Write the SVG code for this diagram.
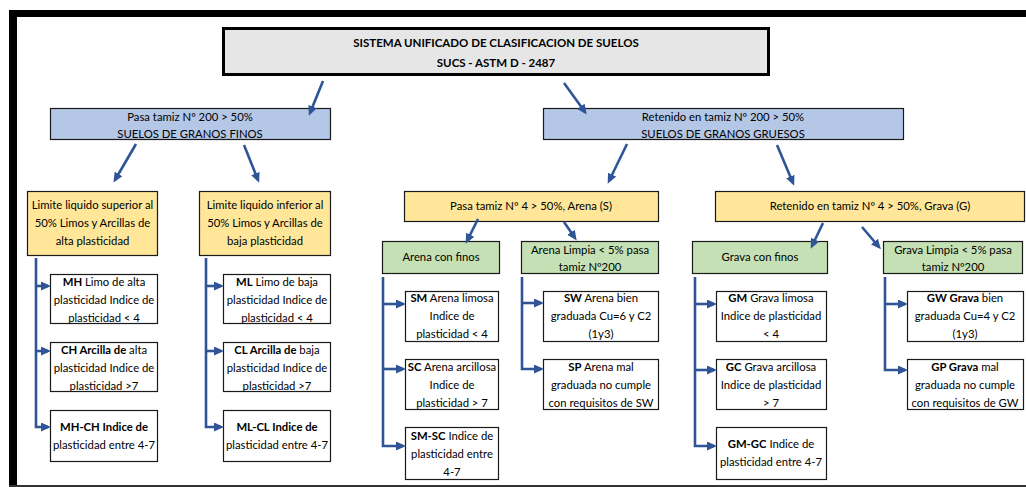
<svg xmlns="http://www.w3.org/2000/svg" width="1026" height="487" viewBox="0 0 1026 487">
<style>
text{font-family:Lato,"Open Sans","Liberation Sans",sans-serif;font-size:11.3px;fill:#000;text-anchor:middle}
.b{font-weight:bold}
.t{font-size:11.5px;font-weight:bold}
.box{stroke:#1a1a1a;stroke-width:1.2}
.w{fill:#fff}
.y{fill:#ffe699}
.g{fill:#c5e0b4}
.bl{fill:#b4c7e7}
.c{fill:none;stroke:#2f5597;stroke-width:2.6;marker-end:url(#ah)}
</style>
<defs>
<marker id="ah" markerUnits="userSpaceOnUse" markerWidth="10" markerHeight="9" refX="7" refY="4.5" orient="auto">
<path d="M0,0 L10,4.5 L0,9 z" fill="#2f5597"/>
</marker>
</defs>
<rect x="0" y="0" width="1026" height="487" fill="#fff"/>
<g id="frame">
<rect x="9" y="10" width="1017" height="7" fill="#000"/>
<rect x="9" y="10" width="8" height="477" fill="#000"/>
<rect x="9" y="485" width="1017" height="2" fill="#333"/>
</g>
<g id="title">
<rect x="223.5" y="28.5" width="545" height="46" fill="#e7e6e6" stroke="#000" stroke-width="3"/>
<text class="t" x="496" y="47">SISTEMA UNIFICADO DE CLASIFICACION DE SUELOS</text>
<text class="t" x="496" y="67">SUCS - ASTM D - 2487</text>
</g>
<g id="finos">
<rect class="box bl" x="50.5" y="108.5" width="280" height="31"/>
<text x="190" y="121">Pasa tamiz Nº 200 &gt; 50%</text>
<text x="190" y="138">SUELOS DE GRANOS FINOS</text>
</g>
<g id="gruesos">
<rect class="box bl" x="543.5" y="108.5" width="360" height="31"/>
<text x="723" y="121">Retenido en tamiz Nº 200 &gt; 50%</text>
<text x="723" y="138">SUELOS DE GRANOS GRUESOS</text>
</g>
<g id="ll-sup">
<rect class="box y" x="27.5" y="191.5" width="130" height="64"/>
<text x="92.5" y="209">Limite liquido superior al</text>
<text x="92.5" y="227">50% Limos y Arcillas de</text>
<text x="92.5" y="245">alta plasticidad</text>
</g>
<g id="ll-inf">
<rect class="box y" x="199.5" y="191.5" width="131" height="64"/>
<text x="265" y="209">Limite liquido inferior al</text>
<text x="265" y="227">50% Limos y Arcillas de</text>
<text x="265" y="245">baja plasticidad</text>
</g>
<g id="MH">
<rect class="box w" x="50.5" y="274.5" width="107" height="49"/>
<text x="104" y="286"><tspan class="b">MH</tspan> Limo de alta</text>
<text x="104" y="304">plasticidad Indice de</text>
<text x="104" y="322">plasticidad &lt; 4</text>
</g>
<g id="CH">
<rect class="box w" x="50.5" y="342.5" width="107" height="49"/>
<text x="104" y="354"><tspan class="b">CH Arcilla de</tspan> alta</text>
<text x="104" y="372">plasticidad Indice de</text>
<text x="104" y="390">plasticidad &gt;7</text>
</g>
<g id="MH-CH">
<rect class="box w" x="50.5" y="410.5" width="107" height="51"/>
<text class="b" x="104" y="431">MH-CH Indice de</text>
<text x="104" y="449">plasticidad entre 4-7</text>
</g>
<g id="ML">
<rect class="box w" x="223.5" y="274.5" width="107" height="49"/>
<text x="277" y="286"><tspan class="b">ML</tspan> Limo de baja</text>
<text x="277" y="304">plasticidad Indice de</text>
<text x="277" y="322">plasticidad &lt; 4</text>
</g>
<g id="CL">
<rect class="box w" x="223.5" y="342.5" width="107" height="49"/>
<text x="277" y="354"><tspan class="b">CL Arcilla de</tspan> baja</text>
<text x="277" y="372">plasticidad Indice de</text>
<text x="277" y="390">plasticidad &gt;7</text>
</g>
<g id="ML-CL">
<rect class="box w" x="223.5" y="410.5" width="107" height="51"/>
<text class="b" x="277" y="431">ML-CL Indice de</text>
<text x="277" y="449">plasticidad entre 4-7</text>
</g>
<g id="arena">
<rect class="box y" x="404.5" y="191.5" width="254" height="30"/>
<text x="531" y="210">Pasa tamiz Nº 4 &gt; 50%, Arena (S)</text>
</g>
<g id="arena-finos">
<rect class="box g" x="382.5" y="241.5" width="117" height="32"/>
<text x="441" y="261">Arena con finos</text>
</g>
<g id="arena-limpia">
<rect class="box g" x="521.5" y="241.5" width="137" height="32"/>
<text x="590" y="254">Arena Limpia &lt; 5% pasa</text>
<text x="590" y="271">tamiz Nº200</text>
</g>
<g id="SM">
<rect class="box w" x="405.5" y="291.5" width="93" height="50"/>
<text x="452" y="302"><tspan class="b">SM</tspan> Arena limosa</text>
<text x="452" y="320">Indice de</text>
<text x="452" y="338">plasticidad &lt; 4</text>
</g>
<g id="SC">
<rect class="box w" x="405.5" y="359.5" width="93" height="50"/>
<text x="452" y="371"><tspan class="b">SC</tspan> Arena arcillosa</text>
<text x="452" y="389">Indice de</text>
<text x="452" y="407">plasticidad &gt; 7</text>
</g>
<g id="SM-SC">
<rect class="box w" x="405.5" y="427.5" width="93" height="52"/>
<text x="452" y="440"><tspan class="b">SM-SC</tspan> Indice de</text>
<text x="452" y="458">plasticidad entre</text>
<text x="452" y="476">4-7</text>
</g>
<g id="SW">
<rect class="box w" x="543.5" y="291.5" width="115" height="50"/>
<text x="601" y="302"><tspan class="b">SW</tspan> Arena bien</text>
<text x="601" y="320">graduada Cu=6 y C2</text>
<text x="601" y="338">(1y3)</text>
</g>
<g id="SP">
<rect class="box w" x="543.5" y="359.5" width="115" height="50"/>
<text x="601" y="371"><tspan class="b">SP</tspan> Arena mal</text>
<text x="601" y="389">graduada no cumple</text>
<text x="601" y="407">con requisitos de SW</text>
</g>
<g id="grava">
<rect class="box y" x="715.5" y="191.5" width="309" height="30"/>
<text x="870" y="210">Retenido en tamiz Nº 4 &gt; 50%, Grava (G)</text>
</g>
<g id="grava-finos">
<rect class="box g" x="692.5" y="241.5" width="135" height="32"/>
<text x="760" y="261">Grava con finos</text>
</g>
<g id="grava-limpia">
<rect class="box g" x="883.5" y="241.5" width="139" height="32"/>
<text x="953" y="254">Grava Limpia &lt; 5% pasa</text>
<text x="953" y="271">tamiz Nº200</text>
</g>
<g id="GM">
<rect class="box w" x="716.5" y="291.5" width="110" height="50"/>
<text x="771" y="302"><tspan class="b">GM</tspan> Grava limosa</text>
<text x="771" y="320">Indice de plasticidad</text>
<text x="771" y="338">&lt; 4</text>
</g>
<g id="GC">
<rect class="box w" x="716.5" y="359.5" width="110" height="50"/>
<text x="771" y="371"><tspan class="b">GC</tspan> Grava arcillosa</text>
<text x="771" y="389">Indice de plasticidad</text>
<text x="771" y="407">&gt; 7</text>
</g>
<g id="GM-GC">
<rect class="box w" x="716.5" y="427.5" width="110" height="52"/>
<text x="771" y="448"><tspan class="b">GM-GC</tspan> Indice de</text>
<text x="771" y="466">plasticidad entre 4-7</text>
</g>
<g id="GW">
<rect class="box w" x="907.5" y="291.5" width="116" height="50"/>
<text x="965" y="302"><tspan class="b">GW Grava</tspan> bien</text>
<text x="965" y="320">graduada Cu=4 y C2</text>
<text x="965" y="338">(1y3)</text>
</g>
<g id="GP">
<rect class="box w" x="907.5" y="359.5" width="116" height="50"/>
<text x="965" y="371"><tspan class="b">GP Grava</tspan> mal</text>
<text x="965" y="389">graduada no cumple</text>
<text x="965" y="407">con requisitos de GW</text>
</g>
<g id="connectors">
<path class="c" d="M323,81 L310,113"/>
<path class="c" d="M564,83 L585,112"/>
<path class="c" d="M136,144 L115,180"/>
<path class="c" d="M244,145 L258,180"/>
<path class="c" d="M627,144 L609,181"/>
<path class="c" d="M777,145 L793,183"/>
<path class="c" d="M478,219 L467,241"/>
<path class="c" d="M564,222 L575,238"/>
<path class="c" d="M823,223 L812,246"/>
<path class="c" d="M862,227 L879,247"/>
<path class="c" d="M36,258 V427 H48"/>
<path class="c" d="M36,286 H48"/>
<path class="c" d="M36,351 H48"/>
<path class="c" d="M206,258 V427 H221"/>
<path class="c" d="M206,286 H221"/>
<path class="c" d="M206,351 H221"/>
<path class="c" d="M383,277 V446 H403"/>
<path class="c" d="M383,304 H403"/>
<path class="c" d="M383,369 H403"/>
<path class="c" d="M522,277 V369 H541"/>
<path class="c" d="M522,303 H541"/>
<path class="c" d="M695,277 V446 H714"/>
<path class="c" d="M695,304 H714"/>
<path class="c" d="M695,370 H714"/>
<path class="c" d="M885,277 V370 H905"/>
<path class="c" d="M885,304 H905"/>
</g>
</svg>
